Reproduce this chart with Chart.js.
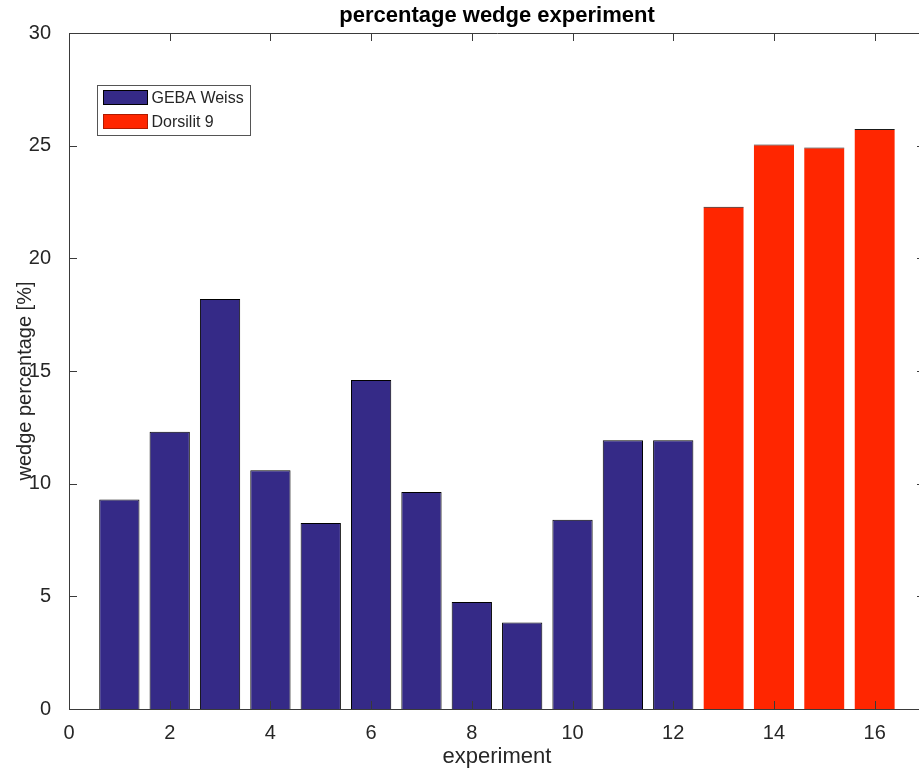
<!DOCTYPE html>
<html>
<head>
<meta charset="utf-8">
<title>percentage wedge experiment</title>
<script src="https://cdn.jsdelivr.net/npm/chart.js@4"></script>
<style>
  html, body { margin: 0; padding: 0; background: #fff; overflow: hidden; }
  #wrap { position: relative; width: 940px; height: 772px; }
</style>
</head>
<body>
<div id="wrap"><canvas id="wedge-chart"></canvas></div>
<script>
// experiment numbers and measured wedge percentages per material
const gebaExperiments = [1, 2, 3, 4, 5, 6, 7, 8, 9, 10, 11, 12];
const gebaWedge = [9.3, 12.3, 18.2, 10.6, 8.25, 14.6, 9.63, 4.75, 3.84, 8.4, 11.93, 11.93];
const dorsilitExperiments = [13, 14, 15, 16];
const dorsilitWedge = [22.29, 25.05, 24.92, 25.74];

const seriesLabels = ['GEBA Weiss', 'Dorsilit 9'];
const xTicks = [0, 2, 4, 6, 8, 10, 12, 14, 16];
const yTicks = [0, 5, 10, 15, 20, 25, 30];

const FONT = '"Liberation Sans", Arial, Helvetica, sans-serif';
const AXIS_COLOR = '#3a3a3a';
const TEXT_COLOR = '#262626';

const toPoints = (xs, ys) => xs.map((x, i) => ({ x: x, y: ys[i] }));

// box around the axes with inward tick marks
const axesFrame = {
  id: 'axesFrame',
  afterDatasetsDraw(chart) {
    const { ctx, chartArea: a, scales: { x, y } } = chart;
    ctx.save();
    ctx.strokeStyle = AXIS_COLOR;
    ctx.lineWidth = 1;
    ctx.beginPath();
    ctx.rect(Math.round(a.left) + 0.5, Math.round(a.top) + 0.5,
             Math.round(a.right - a.left), Math.round(a.bottom - a.top));
    const tl = 8;
    xTicks.forEach(v => {
      const px = Math.round(x.getPixelForValue(v)) + 0.5;
      ctx.moveTo(px, a.bottom); ctx.lineTo(px, a.bottom - tl);
      ctx.moveTo(px, a.top); ctx.lineTo(px, a.top + tl);
    });
    yTicks.forEach(v => {
      const py = Math.round(y.getPixelForValue(v)) + 0.5;
      ctx.moveTo(a.left, py); ctx.lineTo(a.left + tl, py);
      ctx.moveTo(a.right, py); ctx.lineTo(a.right - tl, py);
    });
    ctx.stroke();
    ctx.restore();
  }
};

// plot title and the rotated y-axis label
const plotTexts = {
  id: 'plotTexts',
  afterDraw(chart) {
    const { ctx, chartArea: a } = chart;
    ctx.save();
    ctx.font = 'bold 22px ' + FONT;
    ctx.fillStyle = '#000';
    ctx.textAlign = 'center';
    ctx.textBaseline = 'middle';
    ctx.fillText('percentage wedge experiment', (a.left + a.right) / 2, 16);

    ctx.translate(25, 381);
    ctx.rotate(-Math.PI / 2);
    ctx.font = '20px ' + FONT;
    ctx.fillStyle = TEXT_COLOR;
    ctx.fillText('wedge percentage [%]', 0, 0);
    ctx.restore();
  }
};

// legend box sitting inside the top-left of the axes
const boxLegend = {
  id: 'boxLegend',
  afterDraw(chart) {
    const { ctx } = chart;
    const bx = 97.5, by = 85.5, bw = 153, bh = 50;
    ctx.save();
    ctx.fillStyle = '#fff';
    ctx.fillRect(bx, by, bw, bh);
    ctx.strokeStyle = '#555';
    ctx.lineWidth = 1;
    ctx.strokeRect(bx, by, bw, bh);
    ctx.font = '16px ' + FONT;
    ctx.textBaseline = 'middle';
    ctx.textAlign = 'left';
    chart.data.datasets.forEach((ds, i) => {
      const cy = by + 12 + i * 24;
      ctx.fillStyle = ds.backgroundColor;
      ctx.fillRect(bx + 6, cy - 7, 44, 14);
      ctx.strokeStyle = i === 0 ? '#000' : '#b01a00';
      ctx.strokeRect(bx + 6, cy - 7, 44, 14);
      ctx.fillStyle = TEXT_COLOR;
      ctx.fillText(ds.label, bx + 54, cy + 1);
    });
    ctx.restore();
  }
};

const ctx = document.getElementById('wedge-chart').getContext('2d');
new Chart(ctx, {
  type: 'bar',
  data: {
    datasets: [
      {
        label: seriesLabels[0],
        data: toPoints(gebaExperiments, gebaWedge),
        backgroundColor: '#352a87',
        borderColor: '#000',
        borderWidth: 1
      },
      {
        label: seriesLabels[1],
        data: toPoints(dorsilitExperiments, dorsilitWedge),
        backgroundColor: '#ff2600',
        borderColor: '#1a1a1a',
        borderWidth: { top: 1, left: 0, right: 0, bottom: 0 }
      }
    ]
  },
  options: {
    responsive: true,
    maintainAspectRatio: false,
    animation: false,
    grouped: false,
    categoryPercentage: 1.0,
    barPercentage: 0.8,
    layout: { padding: { top: 33, right: 15, left: 0, bottom: 0 } },
    plugins: {
      legend: { display: false },
      tooltip: { enabled: false }
    },
    scales: {
      x: {
        type: 'linear',
        min: 0,
        max: 17,
        offset: false,
        grid: { display: false, offset: false },
        border: { display: false },
        afterBuildTicks(scale) { scale.ticks = xTicks.map(v => ({ value: v })); },
        afterFit(scale) { scale.height = 63; },
        ticks: {
          padding: 4,
          color: TEXT_COLOR,
          font: { family: FONT, size: 20 },
          maxRotation: 0
        },
        title: {
          display: true,
          text: 'experiment',
          color: TEXT_COLOR,
          font: { family: FONT, size: 22 },
          padding: { top: 0, bottom: 2 }
        }
      },
      y: {
        min: 0,
        max: 30,
        grid: { display: false },
        border: { display: false },
        afterBuildTicks(scale) { scale.ticks = yTicks.map(v => ({ value: v })); },
        afterFit(scale) { scale.width = 69; },
        ticks: {
          padding: 10,
          color: TEXT_COLOR,
          font: { family: FONT, size: 20 }
        }
      }
    }
  },
  plugins: [axesFrame, plotTexts, boxLegend]
});
</script>
</body>
</html>
